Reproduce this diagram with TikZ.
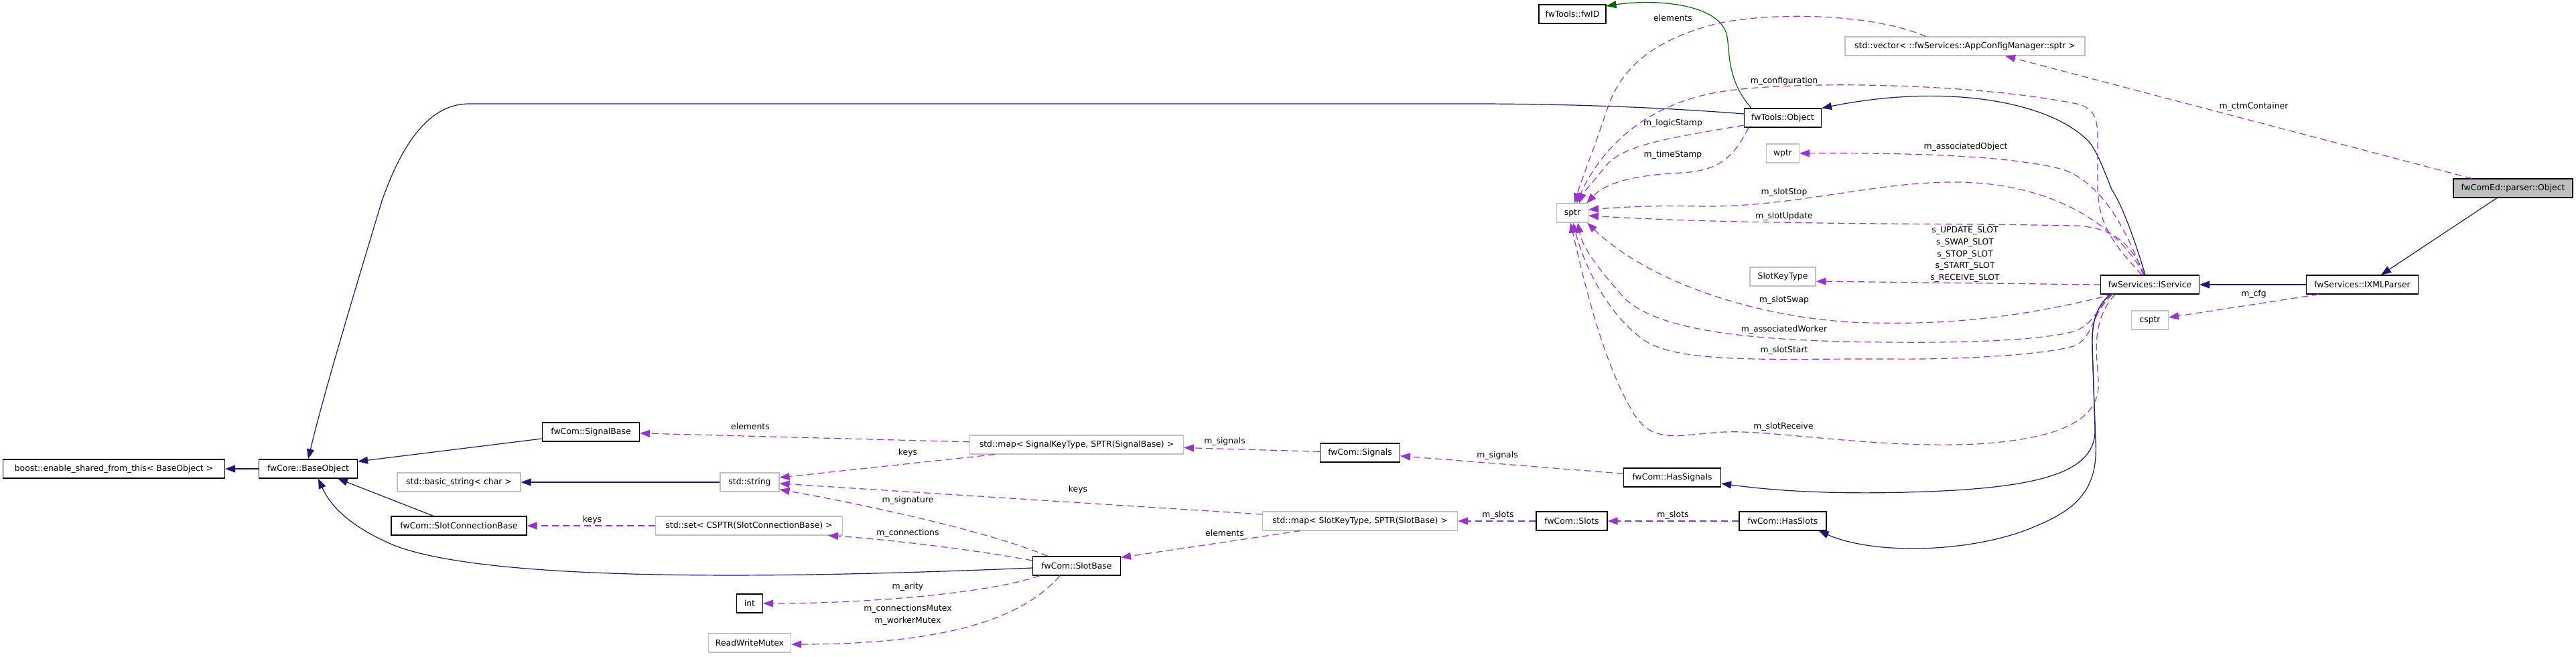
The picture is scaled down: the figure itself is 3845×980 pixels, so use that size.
\documentclass[tikz,border=0pt]{standalone}
\usepackage{fontspec}
\setmainfont{DejaVu Sans}
\usepackage{tikz}
\usetikzlibrary{shapes,arrows,arrows.meta}
\definecolor{inhblue}{HTML}{191970}
\definecolor{usepurple}{HTML}{9A32CD}
\definecolor{protgreen}{HTML}{006400}
\definecolor{boxgray}{HTML}{BFBFBF}
\newcommand{\lfont}{\fontsize{12.4}{17.6}\selectfont}
\tikzstyle{cls} = [draw=black, line width=1.1pt, fill=white, minimum height=28pt, inner sep=0pt, font=\lfont]
\tikzstyle{ext} = [cls, draw=boxgray]
\tikzstyle{cur} = [cls, fill=boxgray]
\tikzstyle{inh} = [draw=inhblue, line width=1.2pt, -{Triangle[length=15pt,width=11pt]}]
\tikzstyle{prot} = [inh, draw=protgreen]
\tikzstyle{mem} = [draw=usepurple, line width=1.2pt, dash pattern=on 10pt off 6pt, -{Triangle[length=15pt,width=11pt]}]
\tikzstyle{lbl} = [inner sep=0pt, font=\lfont, align=center]

\begin{document}
\begin{tikzpicture}[x=1pt,y=-1pt]
      \path[use as bounding box, fill=white] (0,0) rectangle (3845,980);

      % classes
      \node[cls, minimum width=331pt] (boost) at (170,700) {boost::enable\_shared\_from\_this< BaseObject >};
      \node[cls, minimum width=147pt] (baseobj) at (460,700) {fwCore::BaseObject};
      \node[cls, minimum width=145pt] (signalbase) at (882,645) {fwCom::SignalBase};
      \node[ext, minimum width=184pt] (basicstr) at (685,720) {std::basic\_string< char >};
      \node[cls, minimum width=202pt] (slotconnbase) at (685,785) {fwCom::SlotConnectionBase};
      \node[ext, minimum width=279pt] (stdset) at (1118,785) {std::set< CSPTR(SlotConnectionBase) >};
      \node[ext, minimum width=88pt] (stdstring) at (1119,720) {std::string};
      \node[ext, minimum width=319pt] (mapsignal) at (1607,664) {std::map< SignalKeyType, SPTR(SignalBase) >};
      \node[cls, minimum width=119pt] (signals) at (2030,676) {fwCom::Signals};
      \node[cls, minimum width=131pt] (slotbase) at (1607,845) {fwCom::SlotBase};
      \node[cls, minimum width=39pt] (int) at (1119,901) {int};
      \node[ext, minimum width=123pt] (rwmutex) at (1119,960) {ReadWriteMutex};
      \node[ext, minimum width=291pt] (mapslot) at (2030,778) {std::map< SlotKeyType, SPTR(SlotBase) >};
      \node[cls, minimum width=106pt] (slots) at (2346,778) {fwCom::Slots};
      \node[cls, minimum width=145pt] (hassignals) at (2496,713) {fwCom::HasSignals};
      \node[cls, minimum width=130pt] (hasslots) at (2661,778) {fwCom::HasSlots};
      \node[cls, minimum width=100pt] (fwid) at (2347,21) {fwTools::fwID};
      \node[ext, minimum width=358pt] (vector) at (2933,69) {std::vector< ::fwServices::AppConfigManager::sptr >};
      \node[cls, minimum width=115pt] (object) at (2661,176) {fwTools::Object};
      \node[ext, minimum width=49pt] (wptr) at (2661,229) {wptr};
      \node[ext, minimum width=47pt] (sptr) at (2347,318) {sptr};
      \node[ext, minimum width=98pt] (slotkeytype) at (2661,413) {SlotKeyType};
      \node[cls, minimum width=147pt] (iservice) at (3209,425) {fwServices::IService};
      \node[ext, minimum width=55pt] (csptr) at (3209,478) {csptr};
      \node[cls, minimum width=167pt] (ixmlparser) at (3526,425) {fwServices::IXMLParser};
      \node[cur, minimum width=178pt] (parserobj) at (3751,281) {fwComEd::parser::Object};

      % inheritance
      \draw[inh] (baseobj) -- (boost);
      \draw[inh] ([yshift=-10pt]signalbase.west) -- ([yshift=11pt]baseobj.east);
      \draw[inh] ([xshift=-38pt]slotconnbase.north) -- ([xshift=44pt]baseobj.south);
      \draw[inh] ([yshift=6pt]object.west) .. controls (2450,158) and (2300,155) .. (2200,155) -- (700,155)
            .. controls (640,155) and (600,215) .. (570,300) .. controls (540,400) and (485,580) .. (baseobj.north);
      \draw[inh] ([yshift=-3pt]slotbase.west) .. controls (1250,860) and (750,875) .. (590,815)
            .. controls (530,790) and (495,760) .. ([xshift=15pt]baseobj.south);
      \draw[inh] (stdstring) -- (basicstr);
      \draw[inh] ([xshift=-59pt]iservice.south) .. controls (3125,460) and (3122,490) .. (3123,520) -- (3127,640)
            .. controls (3129,700) and (3060,725) .. (2900,733) .. controls (2750,740) and (2650,733) .. ([yshift=-9pt]hassignals.east);
      \draw[inh] ([xshift=-59pt]iservice.south) .. controls (3125,460) and (3122,490) .. (3123,520) -- (3128,660)
            .. controls (3132,730) and (3100,760) .. (3040,785) .. controls (2950,825) and (2800,830) .. ([xshift=-12pt]hasslots.south east);
      \draw[inh] ([xshift=-7pt]iservice.north) .. controls (3190,370) and (3170,310) .. (3152,283)
            .. controls (3135,240) and (3125,215) .. (3111,205) .. controls (3050,150) and (2900,125) .. (object.north east);
      \draw[inh] (ixmlparser) -- (iservice);
      \draw[inh] ([xshift=-24pt]parserobj.south) -- ([xshift=28pt]ixmlparser.north);
      \draw[prot] ([xshift=-47pt]object.north) .. controls (2578,120) and (2582,80) .. (2578,55)
            .. controls (2570,5) and (2470,-2) .. ([yshift=12pt]fwid.east);

      % members
      \draw[mem] (mapsignal) -- (signalbase);
      \node[lbl] (lelem1) at (1120,637) {elements};
      \draw[mem] ([xshift=-122pt]mapsignal.south) -- ([yshift=7pt]stdstring.east);
      \node[lbl] (lkeys1) at (1355,676) {keys};
      \draw[mem] (signals) -- (mapsignal);
      \node[lbl] (lsig1) at (1828,659) {m\_signals};
      \draw[mem] (hassignals) -- (signals);
      \node[lbl] (lsig2) at (2235,680) {m\_signals};
      \draw[mem] ([yshift=10pt]mapslot.west) -- ([yshift=-2pt]stdstring.east);
      \node[lbl] (lkeys2) at (1609,731) {keys};
      \draw[mem] ([xshift=-43pt]slotbase.north) .. controls (1480,795) and (1300,755) .. ([yshift=-11pt]stdstring.east);
      \node[lbl] (lsign) at (1355,747) {m\_signature};
      \draw[mem] ([yshift=8pt]slotbase.west) .. controls (1450,820) and (1320,805) .. ([xshift=118pt]stdset.south);
      \node[lbl] (lconn) at (1355,796) {m\_connections};
      \draw[mem] ([xshift=-89pt]mapslot.south) -- ([yshift=-2pt]slotbase.north east);
      \node[lbl] (lelem2) at (1828,796) {elements};
      \draw[mem] ([xshift=-55pt]slotbase.south) .. controls (1480,885) and (1300,901) .. (int.east);
      \node[lbl] (larity) at (1355,876) {m\_arity};
      \draw[mem] ([xshift=-25pt]slotbase.south) .. controls (1530,920) and (1420,962) .. ([yshift=-2pt]rwmutex.east);
      \node[lbl] (lmutex) at (1355,918) {m\_connectionsMutex\\m\_workerMutex};
      \draw[mem] (stdset) -- (slotconnbase);
      \node[lbl] (lkeys3) at (884,776) {keys};
      \draw[mem] (slots) -- (mapslot);
      \node[lbl] (lslots1) at (2236,769) {m\_slots};
      \draw[mem] (hasslots) -- (slots);
      \node[lbl] (lslots2) at (2497,769) {m\_slots};
      \draw[mem] ([xshift=28pt]parserobj.north west) -- ([xshift=60pt]vector.south);
      \node[lbl] (lctm) at (3364,159) {m\_ctmContainer};
      \draw[mem] ([xshift=-65pt]ixmlparser.south) -- ([yshift=4pt]csptr.east);
      \node[lbl] (lcfg) at (3364,439) {m\_cfg};
      \draw[mem] (iservice.west) -- ([yshift=-7pt]slotkeytype.east);
      \node[lbl] (lslotkeys) at (2933,380) {s\_UPDATE\_SLOT\\s\_SWAP\_SLOT\\s\_STOP\_SLOT\\s\_START\_SLOT\\s\_RECEIVE\_SLOT};

      % members pointing to sptr and wptr
      \draw[mem] ([xshift=-58pt]vector.north) .. controls (2780,15) and (2620,20) .. (2556,37)
            .. controls (2470,60) and (2420,100) .. (2400,160) .. controls (2380,220) and (2360,270) .. ([xshift=3pt]sptr.north);
      \node[lbl] (lelem3) at (2497,27) {elements};
      \draw[mem] ([xshift=-12pt]iservice.north) .. controls (3160,370) and (3132,340) .. (3131,280) -- (3131,200)
            .. controls (3130,170) and (3120,160) .. (3100,155) .. controls (2950,125) and (2700,120) .. (2582,135)
            .. controls (2460,150) and (2390,220) .. ([xshift=6pt]sptr.north);
      \node[lbl] (lconf) at (2663,121) {m\_configuration};
      \draw[mem] ([yshift=-11pt]object.west) .. controls (2500,205) and (2420,215) .. (2395,250)
            .. controls (2375,275) and (2362,290) .. ([xshift=10pt]sptr.north);
      \node[lbl] (llogic) at (2497,184) {m\_logicStamp};
      \draw[mem] ([xshift=-51pt]object.south) .. controls (2590,230) and (2570,255) .. (2510,258)
            .. controls (2430,262) and (2395,275) .. ([xshift=21pt]sptr.north);
      \node[lbl] (ltime) at (2497,231) {m\_timeStamp};
      \draw[mem] ([xshift=-10pt]iservice.north) .. controls (3170,330) and (3130,270) .. (3079,253)
            .. controls (3000,232) and (2850,228) .. (wptr.east);
      \node[lbl] (lassobj) at (2934,219) {m\_associatedObject};
      \draw[mem] ([xshift=-9pt]iservice.north) .. controls (3170,350) and (3080,275) .. (2926,272)
            .. controls (2800,270) and (2680,310) .. (2537,308) .. controls (2450,306) and (2400,311) .. ([yshift=5pt]sptr.east);
      \node[lbl] (lstop) at (2663,287) {m\_slotStop};
      \draw[mem] ([xshift=-8pt]iservice.north) .. controls (3180,360) and (3150,340) .. (3100,337)
            .. controls (2900,333) and (2600,336) .. ([yshift=-4pt]sptr.east);
      \node[lbl] (lupd) at (2663,323) {m\_slotUpdate};
      \draw[mem] ([xshift=-55pt]iservice.south) .. controls (3000,478) and (2900,484) .. (2792,482)
            .. controls (2650,480) and (2470,430) .. ([xshift=-2pt]sptr.south east);
      \node[lbl] (lswap) at (2663,448) {m\_slotSwap};
      \draw[mem] ([xshift=-57pt]iservice.south) .. controls (3130,460) and (3125,485) .. (3095,495)
            .. controls (3040,510) and (2900,512) .. (2824,511) .. controls (2650,510) and (2470,500) .. (2420,440)
            .. controls (2385,400) and (2362,370) .. ([xshift=8pt]sptr.south);
      \node[lbl] (lworker) at (2663,492) {m\_associatedWorker};
      \draw[mem] ([xshift=-56pt]iservice.south) .. controls (3120,470) and (3125,505) .. (3095,517)
            .. controls (3040,532) and (2900,537) .. (2824,536) .. controls (2650,535) and (2500,545) .. (2450,505)
            .. controls (2390,460) and (2360,380) .. ([xshift=1pt]sptr.south);
      \node[lbl] (lstart) at (2663,523) {m\_slotStart};
      \draw[mem] ([xshift=-52pt]iservice.south) .. controls (3120,480) and (3130,530) .. (3132,570)
            .. controls (3135,625) and (3080,655) .. (2950,663) .. controls (2800,670) and (2650,642) .. (2574,645)
            .. controls (2510,648) and (2470,665) .. (2440,620) .. controls (2390,540) and (2360,400) .. ([xshift=-3pt]sptr.south);
      \node[lbl] (lrecv) at (2662,637) {m\_slotReceive};
    \end{tikzpicture}
\end{document}
